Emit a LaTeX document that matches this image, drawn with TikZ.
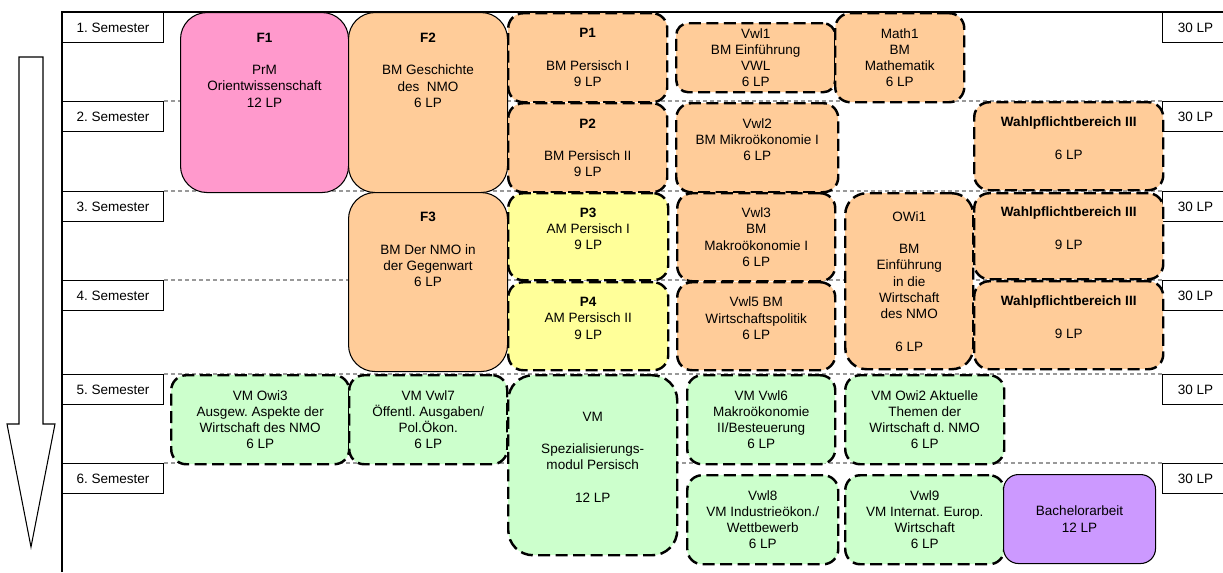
\documentclass[tikz,border=0pt]{standalone}
\usepackage{fontspec}
\setmainfont{Liberation Sans}
\usetikzlibrary{positioning}
\frenchspacing

\definecolor{modpink}{HTML}{FF99CC}
\definecolor{modorange}{HTML}{FFCC99}
\definecolor{modyellow}{HTML}{FFFF99}
\definecolor{modgreen}{HTML}{CCFFCC}
\definecolor{modpurple}{HTML}{CC99FF}

\begin{document}
\begin{tikzpicture}[
    x=0.02cm, y=-0.02cm,
    every node/.style={font=\fontsize{7.7}{9.24}\selectfont, align=center, anchor=north west, inner sep=0pt},
    boxsize/.style 2 args={minimum width=#1*0.02cm, minimum height=#2*0.02cm},
    semlabel/.style={draw, line width=0.6pt, fill=white, boxsize={101}{30}},
    lpbox/.style={draw, line width=0.6pt, fill=white, boxsize={66}{30}},
    modsolid/.style={draw, line width=0.6pt, rounded corners=0.53cm},
    moddash/.style={draw, line width=1.4pt, dash pattern=on 0.24cm off 0.11cm, rounded corners=0.3cm, fill=modorange},
    sepline/.style={draw=gray!80, line width=0.6pt, dash pattern=on 0.08cm off 0.06cm}
]
\useasboundingbox (0,0) rectangle (1223,572);

% time arrow
\draw[line width=0.6pt, fill=white] (19,57) -- (43,57) -- (43,424) -- (55,424) -- (31,547) -- (7,424) -- (19,424) -- cycle;

% semester labels
\node[semlabel] (sem1) at (62,12) {1. Semester};
\node[semlabel] (sem2) at (62,101) {2. Semester};
\node[semlabel] (sem3) at (62,191) {3. Semester};
\node[semlabel] (sem4) at (62,280) {4. Semester};
\node[semlabel] (sem5) at (62,374) {5. Semester};
\node[semlabel] (sem6) at (62,463) {6. Semester};

% credit boxes
\node[lpbox] (lp1) at (1162,12) {30 LP};
\node[lpbox] (lp2) at (1162,101) {30 LP};
\node[lpbox] (lp3) at (1162,191) {30 LP};
\node[lpbox] (lp4) at (1162,280) {30 LP};
\node[lpbox] (lp5) at (1162,374) {30 LP};
\node[lpbox] (lp6) at (1162,463) {30 LP};

% frame
\coordinate (framebl) at (62,572);
\coordinate (frametr) at (1223,12);
\draw[line width=0.6pt] (framebl) -- (sem1.north west) -- (frametr);

% semester separators
\draw[sepline] (sem2.north east) -- (lp2.north west);
\draw[sepline] (sem3.north east) -- (lp3.north west);
\draw[sepline] (sem4.north east) -- (lp4.north west);
\draw[sepline] (sem5.north east) -- (lp5.north west);
\draw[sepline] (sem6.north east) -- (lp6.north west);

% first column
\node[modsolid, fill=modpink, boxsize={168}{180}] (f1) at (180,12) {\textbf{F1}\\~\\PrM\\Orientwissenschaft\\12 LP\\~\\~\\~\\~};

% second column
\node[modsolid, fill=modorange, boxsize={159}{180}] (f2) at (348,12) {\textbf{F2}\\~\\BM Geschichte\\des\ \ NMO\\6 LP\\~\\~\\~\\~};
\node[modsolid, fill=modorange, boxsize={159}{179}] (f3) at (348,192) {\textbf{F3}\\~\\BM Der NMO in\\der Gegenwart\\6 LP\\~\\~\\~\\~};

% Persian column
\node[moddash, boxsize={159}{89}] (p1) at (507,12) {\textbf{P1}\\~\\BM Persisch I\\9 LP};
\node[moddash, boxsize={159}{89}] (p2) at (507,102) {\textbf{P2}\\~\\BM Persisch II\\9 LP};
\node[moddash, fill=modyellow, boxsize={160}{87}] (p3) at (507,192) {\textbf{P3}\\AM Persisch I\\9 LP\\~};
\node[moddash, fill=modyellow, boxsize={160}{88}] (p4) at (507,281) {\textbf{P4}\\AM Persisch II\\9 LP\\~};

% economics column
\node[moddash, boxsize={159}{69}, rounded corners=0.24cm] (vwl1) at (675,22) {Vwl1\\BM Einführung\\VWL\\6 LP};
\node[moddash, boxsize={162}{89}] (vwl2) at (675,102) {Vwl2\\BM Mikroökonomie I\\6 LP\\~};
\node[moddash, boxsize={158}{88}] (vwl3) at (676,192) {Vwl3\\BM\\Makroökonomie I\\6 LP};
\node[moddash, boxsize={158}{88}] (vwl5) at (676,281) {Vwl5 BM\\Wirtschaftspolitik\\6 LP\\~};

% mathematics and OWi1
\node[moddash, boxsize={129}{89}] (math1) at (834,12) {Math1\\BM\\Mathematik\\6 LP};
\node[moddash, boxsize={128}{176}, rounded corners=0.43cm] (owi1) at (844,192) {OWi1\\~\\BM\\Einführung\\in die\\Wirtschaft\\des NMO\\~\\6 LP};

% elective area
\node[moddash, boxsize={189}{88}] (wpb1) at (973,101) {\textbf{Wahlpflichtbereich III}\\~\\6 LP\\~};
\node[moddash, boxsize={189}{86}] (wpb2) at (973,192) {\textbf{Wahlpflichtbereich III}\\~\\9 LP\\~};
\node[moddash, boxsize={189}{88}] (wpb3) at (973,280) {\textbf{Wahlpflichtbereich III}\\~\\9 LP\\~};

% advanced modules
\node[moddash, fill=modgreen, boxsize={178}{89}] (owi3) at (170,374) {VM Owi3\\Ausgew. Aspekte der\\Wirtschaft des NMO\\6 LP};
\node[moddash, fill=modgreen, boxsize={158}{89}] (vwl7) at (348,374) {VM Vwl7\\Öffentl. Ausgaben/\\Pol.Ökon.\\6 LP};
\node[moddash, fill=modgreen, boxsize={169}{180}, rounded corners=0.5cm] (spez) at (507,374) {VM\\~\\Spezialisierungs-\\modul Persisch\\~\\12 LP\\~};
\node[moddash, fill=modgreen, boxsize={148}{89}] (vwl6) at (686,374) {VM Vwl6\\Makroökonomie\\II/Besteuerung\\6 LP};
\node[moddash, fill=modgreen, boxsize={159}{89}] (owi2) at (844,374) {VM Owi2 Aktuelle\\Themen der\\Wirtschaft d. NMO\\6 LP};
\node[moddash, fill=modgreen, boxsize={151}{89}] (vwl8) at (686,474) {Vwl8\\VM Industrieökon./\\Wettbewerb\\6 LP};
\node[moddash, fill=modgreen, boxsize={159}{89}] (vwl9) at (844,474) {Vwl9\\VM Internat. Europ.\\Wirtschaft\\6 LP};

% thesis
\node[modsolid, fill=modpurple, boxsize={152}{89}, rounded corners=0.3cm] (thesis) at (1003,474) {Bachelorarbeit\\12 LP};

\end{tikzpicture}
\end{document}
